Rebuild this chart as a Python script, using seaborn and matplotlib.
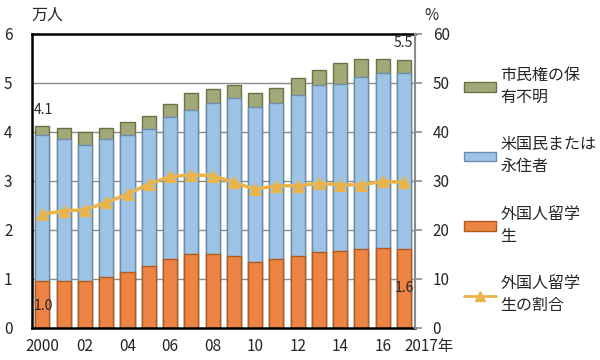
import numpy as np
import pandas as pd
import matplotlib
matplotlib.use("Agg")
import matplotlib.pyplot as plt
import matplotlib.transforms as mtrans
import seaborn as sns
from matplotlib.patches import Patch
from matplotlib.lines import Line2D

years = list(range(2000, 2018))
students = [0.95, 0.96, 0.95, 1.04, 1.14, 1.26, 1.40, 1.50, 1.50, 1.46,
            1.34, 1.41, 1.46, 1.55, 1.57, 1.61, 1.63, 1.61]
citizens_or_residents = [3.94, 3.86, 3.73, 3.86, 3.94, 4.06, 4.31, 4.45, 4.59, 4.69,
                         4.50, 4.58, 4.76, 4.95, 4.97, 5.12, 5.21, 5.20]  # cumulative top
total = [4.13, 4.07, 4.00, 4.07, 4.20, 4.33, 4.56, 4.80, 4.87, 4.95,
         4.80, 4.89, 5.10, 5.27, 5.40, 5.49, 5.49, 5.46]
share = [23.2, 23.9, 24.1, 25.6, 27.3, 29.4, 30.9, 31.2, 31.1, 29.7,
         28.3, 29.0, 29.0, 29.5, 29.2, 29.2, 29.9, 29.7]
xlabels = ["2000", "", "02", "", "04", "", "06", "", "08", "",
           "10", "", "12", "", "14", "", "16", "2017年"]

sns.set_style("white")
plt.rcParams['font.family'] = ['Noto Sans CJK JP', 'DejaVu Sans']

df = pd.DataFrame({"year": [str(y) for y in years], "total": total,
                   "resident": citizens_or_residents, "student": students})

c_olive, e_olive = "#A3A878", "#6E7147"
c_blue, e_blue = "#9DC3E6", "#6A8DAE"
c_orange, e_orange = "#EE8443", "#B05A22"
c_line = "#E9B44C"

fig = plt.figure(figsize=(6, 3.6), dpi=100)
ax = fig.add_axes([0.053, 0.089, 0.638, 0.817])

kw = dict(width=0.66, linewidth=1.0, ax=ax, zorder=2, saturation=1)
sns.barplot(data=df, x="year", y="total", color=c_olive, edgecolor=e_olive, **kw)
sns.barplot(data=df, x="year", y="resident", color=c_blue, edgecolor=e_blue, **kw)
sns.barplot(data=df, x="year", y="student", color=c_orange, edgecolor=e_orange, **kw)

ax.set_ylim(0, 6)
ax.set_xlim(-0.5, 17.5)
ax.set_yticks(range(7))
ax.set_yticklabels([str(i) for i in range(7)], fontsize=11)
ax.set_xticks(range(18))
ax.set_xticklabels(xlabels, fontsize=11)
last = ax.get_xticklabels()[-1]
last.set_ha("left")
last.set_transform(last.get_transform() + mtrans.ScaledTranslation(-8 / 72, 0, fig.dpi_scale_trans))
ax.tick_params(axis="x", length=0, pad=7)
ax.set_xticks(np.arange(0.5, 17, 1), minor=True)
ax.tick_params(axis="x", which="minor", direction="in", length=4, color="black")
ax.tick_params(axis="y", length=0, pad=14)
ax.set_xlabel("")
ax.set_ylabel("")
for y in range(1, 6):
    ax.axhline(y, color="#8c8c8c", linewidth=1, zorder=1)
for s in ["left", "bottom", "top"]:
    ax.spines[s].set_color("black")
    ax.spines[s].set_linewidth(1.8)
ax.spines["right"].set_visible(False)

ax2 = ax.twinx()
sns.lineplot(x=np.arange(18), y=share, ax=ax2, color=c_line, linewidth=2.5,
             marker="^", markersize=8, markeredgecolor=c_line, zorder=3)
ax2.set_ylim(0, 60)
ax2.set_yticks(range(0, 61, 10))
ax2.set_yticklabels([str(v) for v in range(0, 61, 10)], fontsize=11)
ax2.tick_params(axis="y", length=5, color="#8c8c8c", width=1.2, pad=8)
for s in ["left", "bottom", "top"]:
    ax2.spines[s].set_visible(False)
ax2.spines["right"].set_color("#8c8c8c")
ax2.spines["right"].set_linewidth(1.5)
ax2.set_xlim(-0.5, 17.5)

fig.text(0.052, 0.958, "万人", fontsize=11.5, ha="left", va="center")
fig.text(0.708, 0.958, "%", fontsize=11, ha="left", va="center")
ax.text(0.05, total[0] + 0.18, "4.1", fontsize=10, ha="center", va="bottom")
ax.text(16.95, 5.68, "5.5", fontsize=10, ha="center", va="bottom")
ax.text(0.05, 0.45, "1.0", fontsize=10, ha="center", va="center")
ax.text(17.0, 0.82, "1.6", fontsize=10, ha="center", va="center")

handles = [Patch(facecolor=c_olive, edgecolor=e_olive),
           Patch(facecolor=c_blue, edgecolor=e_blue),
           Patch(facecolor=c_orange, edgecolor=e_orange),
           Line2D([0], [0], color=c_line, lw=2, marker="^", markersize=7)]
labels = ["市民権の保\n有不明", "米国民または\n永住者", "外国人留学\n生", "外国人留学\n生の割合"]
leg = fig.legend(handles, labels, loc="upper left", bbox_to_anchor=(0.773, 0.815),
                 frameon=False, fontsize=11.5, labelspacing=1.9, handlelength=2.0,
                 handleheight=0.55, handletextpad=0.3, borderpad=0, borderaxespad=0)
for t in leg.get_texts():
    t.set_linespacing(1.4)

fig.savefig("out.png", dpi=100)
